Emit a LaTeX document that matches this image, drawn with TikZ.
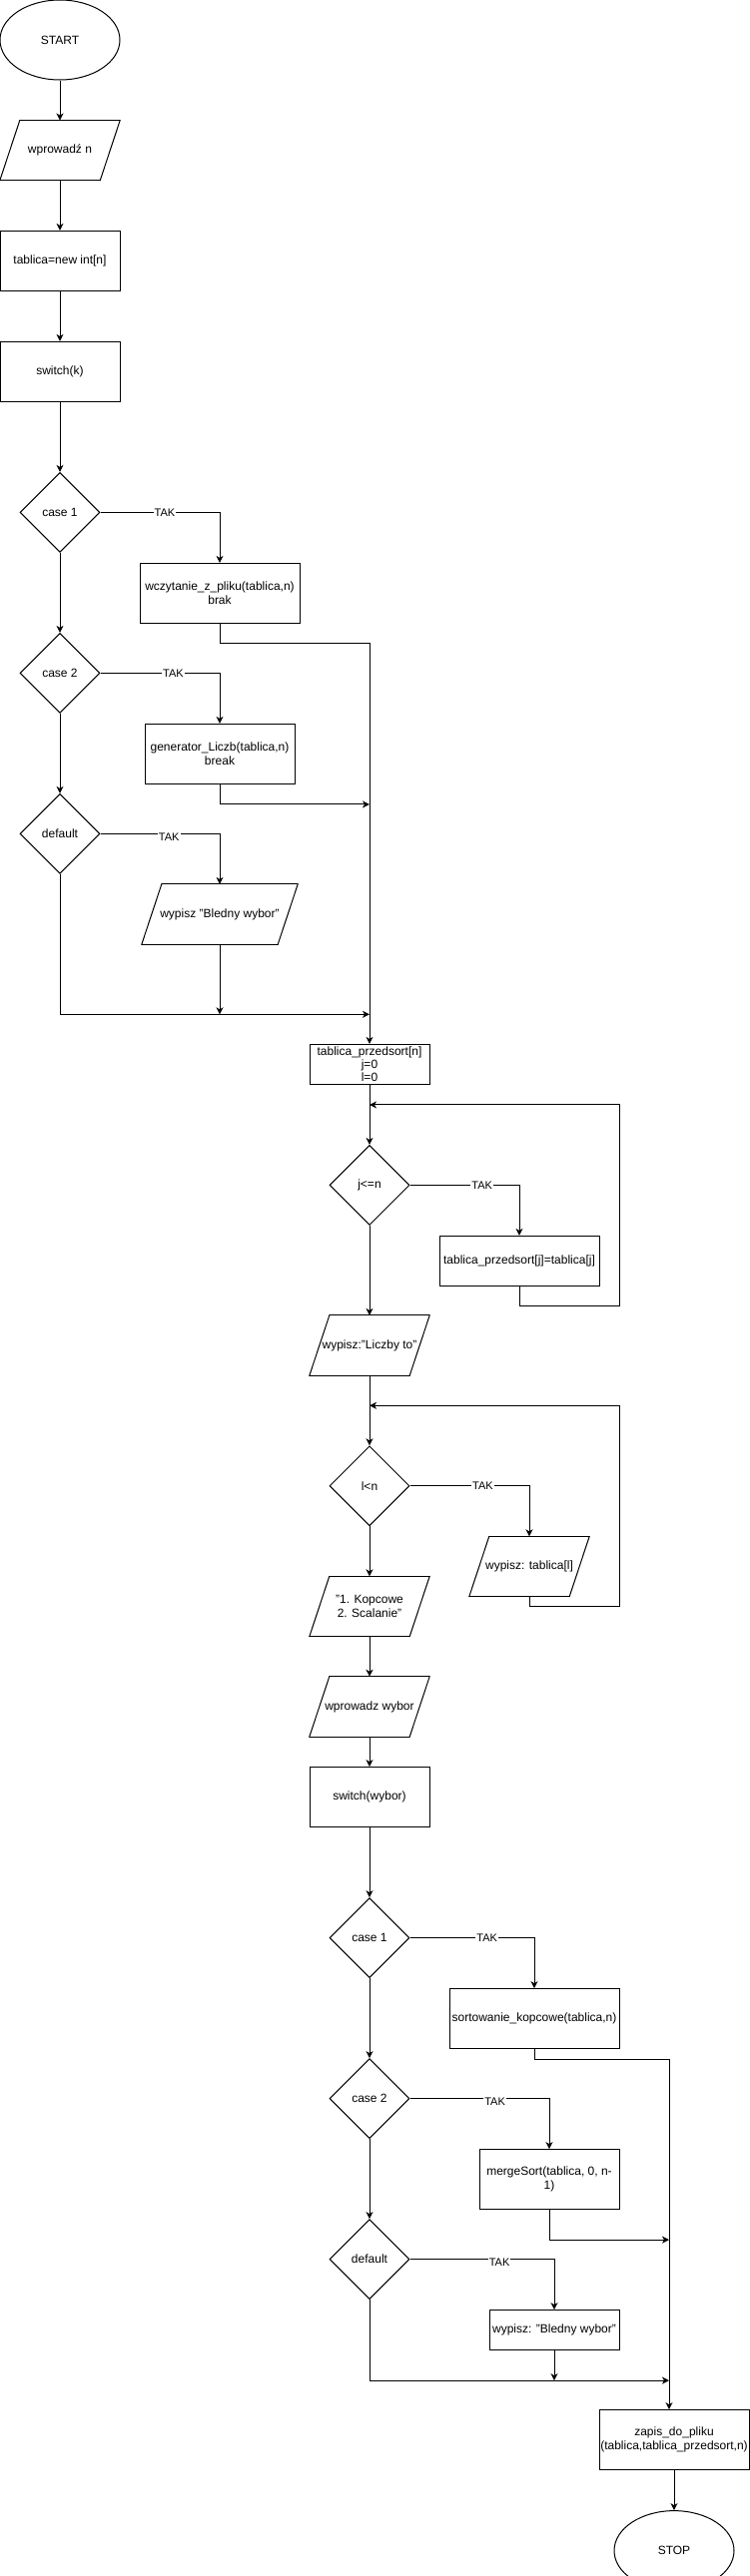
\documentclass[tikz,border=0pt]{standalone}
\usepackage{fontspec}
\setmainfont{Liberation Sans}
\usetikzlibrary{shapes.geometric, arrows.meta, positioning, calc}

\begin{document}
\begin{tikzpicture}[
    font=\fontsize{12}{14}\selectfont,
    term/.style={ellipse, draw, line width=1pt, minimum width=120pt, minimum height=80pt, inner sep=0pt},
    ioline/.style={-, line width=1pt, line cap=round},
    io/.style={rectangle, minimum width=120pt, minimum height=60pt, inner sep=0pt, align=center,
        append after command={
            ([xshift=20pt]\tikzlastnode.north west) edge[ioline] (\tikzlastnode.north east)
            (\tikzlastnode.north east) edge[ioline] ([xshift=-20pt]\tikzlastnode.south east)
            ([xshift=-20pt]\tikzlastnode.south east) edge[ioline] (\tikzlastnode.south west)
            (\tikzlastnode.south west) edge[ioline] ([xshift=20pt]\tikzlastnode.north west)
        }},
    box/.style={rectangle, draw, line width=1pt, minimum width=120pt, minimum height=60pt, inner sep=0pt, align=center},
    dec/.style={diamond, draw, line width=1pt, aspect=1, minimum width=80pt, minimum height=80pt, inner sep=0pt},
    arrow/.style={-{Stealth[length=7pt, width=7pt, inset=2pt]}, line width=1pt},
    lbl/.style={fill=white, inner sep=1pt, font=\fontsize{11}{13}\selectfont}
]
\useasboundingbox (0,0) rectangle (751pt,-2581pt);

% Start and input
\node[term] (start) at (60pt,-40pt) {START};
\node[io, below=40pt of start] (readn) {wprowadź n};
\node[box, below=50pt of readn] (alloc) {tablica=new int[n]};
\node[box, below=50pt of alloc] (swk) {switch(k)};

% switch(k)
\node[dec, below=70pt of swk] (k1) {case 1};
\node[box, minimum width=160pt, below=10pt of k1, xshift=160pt] (file) {wczytanie\_z\_pliku(tablica,n)\\brak};
\node[dec, below=80pt of k1] (k2) {case 2};
\node[box, minimum width=150pt, below=10pt of k2, xshift=160pt] (gen) {generator\_Liczb(tablica,n)\\break};
\node[dec, below=80pt of k2] (kd) {default};
\node[io, minimum width=156pt, below=10pt of kd, xshift=160pt] (bad) {wypisz "Bledny wybor"};

% Copy loop
\node[box, minimum height=40pt, font=\fontsize{12}{13}\selectfont, below=170pt of kd, xshift=310pt] (init) {tablica\_przedsort[n]\\j=0\\l=0};
\node[dec, below=60pt of init] (cj) {j<=n};
\node[box, minimum width=160pt, minimum height=50pt, below=10pt of cj, xshift=150pt] (copy) {tablica\_przedsort[j]=tablica[j]};
\node[io, below=90pt of cj] (outmsg) {wypisz:"Liczby to"};

% Print loop
\node[dec, below=70pt of outmsg] (cl) {l<n};
\node[io, below=10pt of cl, xshift=160pt] (outel) {wypisz: tablica[l]};
\node[io, below=50pt of cl] (menu) {"1. Kopcowe\\2. Scalanie"};
\node[io, below=40pt of menu] (readw) {wprowadz wybor};
\node[box, below=30pt of readw] (sww) {switch(wybor)};

% switch(wybor)
\node[dec, below=70pt of sww] (w1) {case 1};
\node[box, minimum width=170pt, below=10pt of w1, xshift=165pt] (heap) {sortowanie\_kopcowe(tablica,n)};
\node[dec, below=80pt of w1] (w2) {case 2};
\node[box, minimum width=140pt, below=10pt of w2, xshift=180pt] (merge) {mergeSort(tablica, 0, n-\\1)};
\node[dec, below=80pt of w2] (wd) {default};
\node[box, minimum width=130pt, minimum height=40pt, below=10pt of wd, xshift=185pt] (bad2) {wypisz: "Bledny wybor"};

% End
\node[box, minimum width=150pt, below=110pt of wd, xshift=305pt] (save) {zapis\_do\_pliku\\(tablica,tablica\_przedsort,n)};
\node[term, below=40pt of save] (stop) {STOP};

% Joints
\coordinate (j1) at ($(file.south)+(0,-20pt)$);
\coordinate (j2) at ($(gen.south)+(0,-20pt)$);
\coordinate (j3) at ($(bad.south)+(0,-70pt)$);
\coordinate (lp1) at ($(init.south)+(0,-20pt)$);
\coordinate (r1) at ($(copy.south east)+(20pt,-20pt)$);
\coordinate (lp2) at ($(outmsg.south)+(0,-30pt)$);
\coordinate (r2) at ($(outel.south)+(90pt,-10pt)$);
\coordinate (t2) at ($(heap.south)+(135pt,-10pt)$);
\coordinate (j5) at ($(merge.south)+(0,-30pt)$);
\coordinate (j6) at ($(bad2.south)+(0,-30pt)$);

% Arrows
\draw[arrow] (start) -- (readn);
\draw[arrow] (readn) -- (alloc);
\draw[arrow] (alloc) -- (swk);
\draw[arrow] (swk) -- (k1);
\draw[arrow] (k1) -- (k2);
\draw[arrow] (k2) -- (kd);
\draw[arrow] (k1) -- node[lbl, pos=0.54] {TAK} (k1 -| file) -- (file);
\draw[arrow] (k2) -- node[lbl, pos=0.61] {TAK} (k2 -| gen) -- (gen);
\draw[arrow] (kd) -- node[lbl, pos=0.575, yshift=-3pt] {TAK} (kd -| bad) -- (bad);
\draw[arrow] (file) -- (j1) -| (init);
\draw[arrow] (gen) -- (j2) -- (j2 -| init);
\draw[arrow] (bad) -- (j3);
\draw[arrow] (kd) |- (j3 -| init);

\draw[arrow] (init) -- (cj);
\draw[arrow] (cj) -- node[lbl, pos=0.66] {TAK} (cj -| copy) -- (copy);
\draw[arrow] (copy) |- (r1) |- (lp1);
\draw[arrow] (cj) -- (outmsg);
\draw[arrow] (outmsg) -- (cl);
\draw[arrow] (cl) -- node[lbl, pos=0.61] {TAK} (cl -| outel) -- (outel);
\draw[arrow] (outel) |- (r2) |- (lp2);
\draw[arrow] (cl) -- (menu);
\draw[arrow] (menu) -- (readw);
\draw[arrow] (readw) -- (sww);
\draw[arrow] (sww) -- (w1);

\draw[arrow] (w1) -- (w2);
\draw[arrow] (w2) -- (wd);
\draw[arrow] (w1) -- node[lbl, pos=0.62] {TAK} (w1 -| heap) -- (heap);
\draw[arrow] (w2) -- node[lbl, pos=0.61, yshift=-3pt] {TAK} (w2 -| merge) -- (merge);
\draw[arrow] (wd) -- node[lbl, pos=0.62, yshift=-3pt] {TAK} (wd -| bad2) -- (bad2);
\draw[arrow] (heap) |- (t2) -- (t2 |- save.north);
\draw[arrow] (merge) -- (j5) -- (j5 -| t2);
\draw[arrow] (bad2) -- (j6);
\draw[arrow] (wd) |- (j6 -| t2);
\draw[arrow] (save) -- (stop);

\end{tikzpicture}
\end{document}
